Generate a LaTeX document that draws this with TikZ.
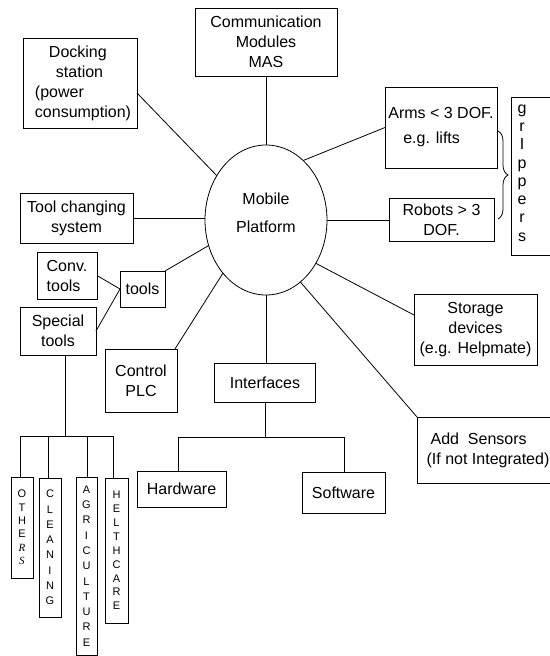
\documentclass[tikz,border=0pt]{standalone}
\usepackage{fontspec}
\setmainfont{Liberation Sans}
\newfontfamily\serfont{Liberation Serif}
\usetikzlibrary{decorations.pathreplacing,shapes.geometric}
\begin{document}
\begin{tikzpicture}[x=1pt,y=-1pt,
  box/.style={draw, line width=0.8pt, rectangle, inner sep=0pt, outer sep=0pt, align=center, font=\fontsize{16}{20}\selectfont},
  vbox/.style={draw, line width=0.8pt, rectangle, inner sep=0pt, outer sep=0pt, align=center},
  sz/.style 2 args={minimum width=#1pt, minimum height=#2pt},
  conn/.style={line width=0.8pt}]
\useasboundingbox (0,0) rectangle (549,656);

% central platform
\node[ellipse, draw, line width=0.8pt, minimum width=122pt, minimum height=150pt, inner sep=0pt, outer sep=0pt] (mp) at (266,220) {};
\node[align=center, inner sep=0pt, font=\fontsize{16}{28}\selectfont] (mpt) at (266,213) {Mobile\\Platform};

% boxes
\node[box, sz={142}{68}] (comm) at (266,42) {Communication\\Modules\\MAS};
\node[box, sz={114}{90}, align=left] (dock) at (80,83) {\hspace*{20pt}Docking\\\hspace*{27pt}station\\\hspace*{6pt}(power\\\hspace*{6pt}consumption)};
\node[box, sz={113}{50}] (tcs) at (76.5,218) {Tool changing\\system};
\node[box, sz={60}{47}, align=left] (conv) at (67,275.5) {Conv.\\tools};
\node[box, sz={45}{36}] (tools) at (142.5,289) {tools};
\node[box, sz={76}{48}] (spec) at (58,331) {Special\\tools};
\node[box, sz={72}{63}] (plc) at (141,380.5) {Control\\PLC};
\node[box, sz={101}{39}] (intf) at (265,382.5) {Interfaces};
\node[box, sz={89}{36}] (hw) at (181.5,489) {Hardware};
\node[box, sz={83}{41}] (sw) at (343.5,492.5) {Software};
\node[box, sz={112}{81}, align=left, font=\fontsize{16}{25}\selectfont] (arms) at (441,127.5) {Arms < 3 DOF.\\\hspace*{15pt}e.g. lifts};
\node[box, sz={105}{43}] (rob) at (441.5,219.5) {Robots > 3\\DOF.};
\node[box, sz={123}{71}] (sto) at (475.5,329.5) {Storage\\devices\\(e.g. Helpmate)};
\node[box, sz={136}{66}, align=left] (sens) at (485,450) {\hspace*{10pt}Add\ \ Sensors\\\hspace*{6pt}(If not Integrated)};
\node[box, sz={44}{158}] (grip) at (533,176) {};
\node[align=center, inner sep=0pt, font=\fontsize{16}{18.3}\selectfont] (gript) at (522,173) {g\\r\\I\\p\\p\\e\\r\\s};

% vertical application boxes
\node[vbox, sz={22}{101}, font=\fontsize{11}{13.4}\selectfont] (oth) at (22,527.5) {O\\T\\H\\E\\{\serfont\itshape R}\\{\serfont\itshape S}};
\node[vbox, sz={22}{139}, font=\fontsize{11}{15.3}\selectfont] (cln) at (50,547.5) {C\\L\\E\\A\\N\\I\\N\\G};
\node[vbox, sz={21}{178}, font=\fontsize{11}{15.3}\selectfont] (agr) at (86.5,566) {A\\G\\R\\I\\C\\U\\L\\T\\U\\R\\E};
\node[vbox, sz={23}{145}, font=\fontsize{11}{13.9}\selectfont] (hlt) at (116.5,550.5) {H\\E\\L\\T\\H\\C\\A\\R\\E};

% connectors to platform
\draw[conn] (comm.south) -- (mp.north);
\draw[conn] ([yshift=-10pt]dock.east) -- (mp.138);
\draw[conn] (tcs.east) -- (tcs.east -| mp.west);
\draw[conn] (tools.north east) -- (mp.204);
\draw[conn] (conv.east) -- (tools.west);
\draw[conn] (spec.east) -- (tools.west);
\draw[conn] ([xshift=-2pt]plc.north east) -- (mp.231);
\draw[conn] (mp.south) -- (mp.south |- intf.north);
\draw[conn] (arms.west) -- (mp.58);
\draw[conn] (mp.east) -- (mp.east -| rob.west);
\draw[conn] ([yshift=14.5pt]sto.west) -- (mp.-41);
\draw[conn] (sens.north west) -- (mp.-61);

% brace for grippers
\coordinate (bt) at (498,131);
\coordinate (bb) at (498,219);
\draw[conn, decorate, decoration={brace, amplitude=10pt}] (bt) -- (bb);

% interfaces tree
\coordinate (ibl) at (178,437);
\coordinate (ibr) at (344,437);
\draw[conn] (intf.south) -- (intf.south |- ibl);
\draw[conn] (ibl) -- (ibr);
\draw[conn] (ibl) -- (ibl |- hw.north);
\draw[conn] (ibr) -- (ibr |- sw.north);

% special tools tree
\coordinate (sj) at (65,436);
\coordinate (s1) at (20,436);
\coordinate (s2) at (48,436);
\coordinate (s3) at (87,436);
\coordinate (s4) at (113,436);
\draw[conn] (spec.south -| sj) -- (sj);
\draw[conn] (s1) -- (s4);
\draw[conn] (s1) -- (s1 |- oth.north);
\draw[conn] (s2) -- (s2 |- cln.north);
\draw[conn] (s3) -- (s3 |- agr.north);
\draw[conn] (s4) -- (s4 |- hlt.north);
\end{tikzpicture}
\end{document}
